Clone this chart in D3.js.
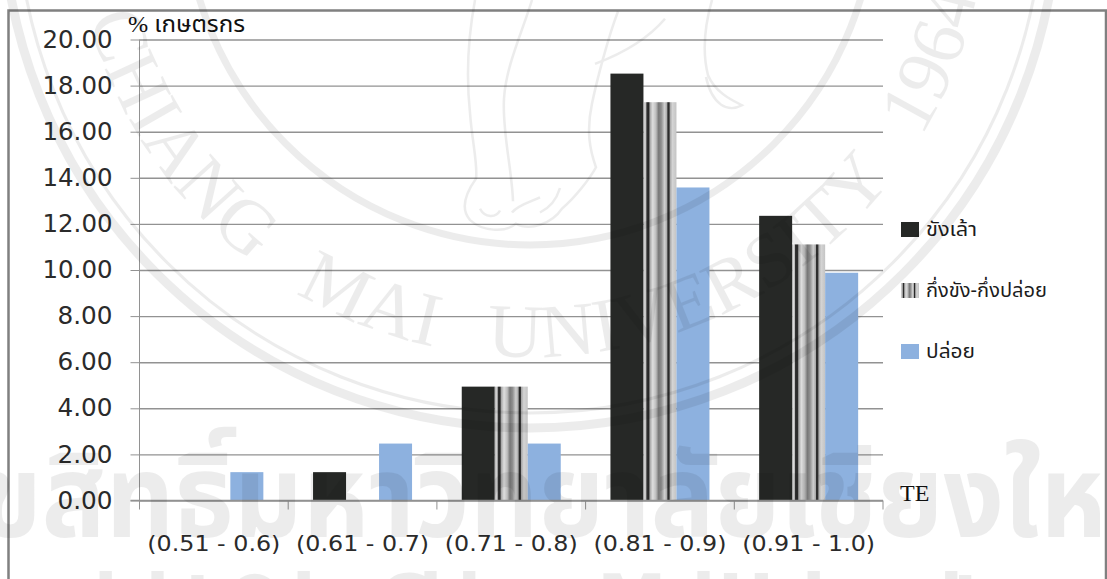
<!DOCTYPE html>
<html>
<head>
<meta charset="utf-8">
<script src="https://cdn.jsdelivr.net/npm/d3@7"></script>
<style>
html, body { margin: 0; padding: 0; background: #fff; }
svg { display: block; }
</style>
</head>
<body>
<svg id="chart" width="1107" height="579"></svg>
<script>
// Share of farmers by technical-efficiency class and rearing system
const categories = ["(0.51 - 0.6)", "(0.61 - 0.7)", "(0.71 - 0.8)", "(0.81 - 0.9)", "(0.91 - 1.0)"];
const seriesNames = ["ขังเล้า", "กึ่งขัง-กึ่งปล่อย", "ปล่อย"];
const penned = [0, 1.23, 4.94, 18.52, 12.35];
const semiPenned = [0, 0, 4.94, 17.28, 11.11];
const freeRange = [1.23, 2.47, 2.47, 13.58, 9.88];
const yTicks = [0, 2, 4, 6, 8, 10, 12, 14, 16, 18, 20];
const seriesValues = [penned, semiPenned, freeRange];
const stripeStops = [
  [0, "#9a9a9a"], [.04, "#dcdcdc"], [.08, "#b5b5b5"], [.10, "#333"], [.16, "#262626"], [.20, "#a8a8a8"],
  [.28, "#dedede"], [.38, "#bdbdbd"], [.46, "#777"], [.54, "#8f8f8f"], [.64, "#cfcfcf"], [.71, "#aaa"],
  [.74, "#252525"], [.78, "#333"], [.81, "#aaa"], [.88, "#d4d4d4"], [1, "#c4c4c4"]
];

const SANS = "'DejaVu Sans', sans-serif";
const SERIF = "'Liberation Serif', serif";
const THAI = "'Noto Sans Thai', 'Noto Sans', 'DejaVu Sans', sans-serif";
const INK = "#2b2b2b";
const RULE = "#929292";

const svg = d3.select("#chart");
const defs = svg.append("defs");
const plot = { left: 139.5, right: 883, top: 39.5, bottom: 500.5 };

const grad = defs.append("linearGradient").attr("id", "stripes")
  .attr("x1", 0).attr("x2", 1).attr("y1", 0).attr("y2", 0);
stripeStops.forEach(([o, c]) => grad.append("stop").attr("offset", o).attr("stop-color", c));

const fills = ["#262826", "url(#stripes)", "#8db1df"];

const x = d3.scaleBand().domain(categories).range([plot.left, plot.right]);
const inner = d3.scaleBand().domain(d3.range(3)).range([0, 99]);
const y = d3.scaleLinear().domain([0, 20]).range([plot.bottom, plot.top]);

// Outer frame
svg.append("path")
  .attr("d", "M8.5,579V10.5H1106V579")
  .attr("fill", "none").attr("stroke", "#808080").attr("stroke-width", 2.5);

// Value axis with gridlines reaching across the plot
const yAxis = svg.append("g").attr("transform", `translate(${plot.left},0)`)
  .call(d3.axisLeft(y).tickValues(yTicks).tickFormat(d3.format(".2f")).tickSize(9).tickPadding(18));
yAxis.selectAll(".tick line").attr("x2", -9).attr("stroke", RULE);
yAxis.selectAll(".tick").append("line")
  .attr("x1", 0).attr("x2", plot.right - plot.left).attr("stroke", RULE).attr("stroke-width", 1.4);
yAxis.select(".domain").attr("stroke", RULE).attr("d", `M0,${plot.top}V${plot.bottom}`);
yAxis.selectAll("text").attr("font-family", SANS).attr("font-size", 24).attr("fill", INK)
  .attr("textLength", 70).attr("lengthAdjust", "spacingAndGlyphs");
yAxis.selectAll("text").filter(d => d < 10).attr("textLength", 55);

// Bars
const groups = svg.append("g").selectAll("g").data(categories).join("g")
  .attr("transform", d => `translate(${x(d) + (x.bandwidth() - 99) / 2},0)`);
groups.selectAll("rect")
  .data((d, i) => seriesValues.map((s, k) => ({ k, v: s[i] })).filter(e => e.v > 0))
  .join("rect")
  .attr("x", d => inner(d.k)).attr("width", inner.bandwidth())
  .attr("y", d => y(d.v)).attr("height", d => y(0) - y(d.v))
  .attr("fill", d => fills[d.k]);

// Category axis, drawn over the bar bases
const xAxis = svg.append("g").attr("transform", `translate(0,${plot.bottom})`);
xAxis.append("line").attr("x1", plot.left - 9).attr("x2", plot.right).attr("stroke", RULE).attr("stroke-width", 1.4);
xAxis.selectAll("line.tick").data(d3.range(6)).join("line").attr("class", "tick")
  .attr("x1", i => plot.left + i * x.step()).attr("x2", i => plot.left + i * x.step())
  .attr("y1", 0).attr("y2", 9).attr("stroke", RULE);
xAxis.selectAll("text").data(categories).join("text")
  .attr("x", d => x(d) + x.bandwidth() / 2).attr("y", 50)
  .attr("text-anchor", "middle").attr("font-family", SANS).attr("font-size", 22).attr("fill", INK)
  .attr("textLength", 133).attr("lengthAdjust", "spacingAndGlyphs")
  .text(d => d);

// Axis captions
svg.append("text").attr("x", 128).attr("y", 32).attr("font-family", SERIF + ", " + THAI)
  .attr("font-size", 23).attr("fill", "#111")
  .attr("textLength", 117).attr("lengthAdjust", "spacingAndGlyphs").text("% เกษตรกร");
svg.append("text").attr("x", 900).attr("y", 501).attr("font-family", SERIF)
  .attr("font-size", 24).attr("fill", "#111").text("TE");

// Legend
const legendY = [229, 290, 351];
const legendWidths = [51, 121, 49];
const legend = svg.append("g").selectAll("g").data(seriesNames).join("g")
  .attr("transform", (d, i) => `translate(901,${legendY[i]})`);
legend.append("rect").attr("x", 0).attr("y", -7).attr("width", 18).attr("height", 15)
  .attr("fill", (d, i) => fills[i]);
legend.append("text").attr("x", 25).attr("y", 7).attr("font-family", THAI)
  .attr("font-size", 20).attr("fill", "#1c1c1c")
  .attr("textLength", (d, i) => legendWidths[i]).attr("lengthAdjust", "spacingAndGlyphs")
  .text(d => d);

// University watermark printed across the whole page
const wm = svg.append("g").attr("opacity", 0.07).style("pointer-events", "none");
const cx = 530, cy = -100;
[[345, 7], [513, 3], [528, 9]].forEach(([r, w]) => {
  wm.append("circle").attr("cx", cx).attr("cy", cy).attr("r", r)
    .attr("fill", "none").attr("stroke", "#000").attr("stroke-width", w);
});

// Seal lettering runs along the underside of the ring
const rad = a => a * Math.PI / 180;
const textR = 457, a0 = -75, a1 = 78;
const pt = a => [cx + textR * Math.sin(rad(a)), cy + textR * Math.cos(rad(a))];
defs.append("path").attr("id", "sealArc")
  .attr("d", `M${pt(a0)}A${textR},${textR} 0 0 0 ${pt(a1)}`);
wm.append("text").attr("font-family", SERIF).attr("font-size", 76).attr("fill", "#000")
  .attr("word-spacing", 34)
  .append("textPath").attr("href", "#sealArc")
  .attr("textLength", textR * rad(a1 - a0)).attr("lengthAdjust", "spacing")
  .text("CHIANG MAI UNIVERSITY 1964");

// Elephant outline at the middle of the seal
const elephant = [
  "M475,0C468,40 466,80 470,120C472,150 478,175 476,190C466,205 460,222 470,234C482,246 505,248 516,238C530,246 552,238 562,222C575,210 590,190 596,178C590,160 586,140 592,110C597,85 608,40 618,12",
  "M532,0C522,35 506,70 504,105C502,140 512,180 513,214",
  "M665,20C645,45 615,60 595,68",
  "M712,0C704,30 702,55 708,80C716,100 735,108 742,112C728,120 712,112 706,82",
  "M480,222C485,232 496,232 500,224M512,226C518,218 532,214 540,210M540,226C548,222 556,214 560,200"
];
wm.append("g").attr("transform", "scale(1,0.94)")
  .selectAll("path").data(elephant).join("path").attr("d", d => d)
  .attr("fill", "none").attr("stroke", "#000").attr("stroke-width", 2.5);

// Thai and English ownership lines
wm.append("text").attr("x", -85).attr("y", 537).attr("font-family", THAI).attr("font-weight", 700)
  .attr("font-size", 116).attr("fill", "#000")
  .attr("textLength", 1260).attr("lengthAdjust", "spacingAndGlyphs")
  .text("ลิขสิทธิ์มหาวิทยาลัยเชียงใหม่");
wm.append("text").attr("x", -80).attr("y", 624).attr("font-family", SANS).attr("font-weight", 700)
  .attr("font-size", 70).attr("fill", "#000")
  .attr("textLength", 1100).attr("lengthAdjust", "spacing")
  .text("Copyright © by Chiang Mai University");
</script>
</body>
</html>
